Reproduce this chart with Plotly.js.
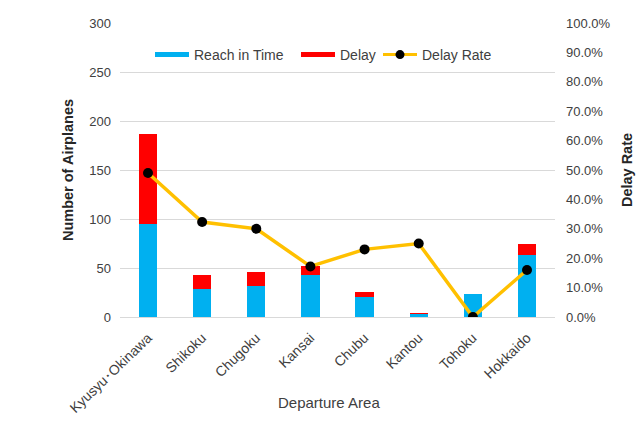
<!DOCTYPE html>
<html>
<head>
<meta charset="utf-8">
<script src="https://cdn.plot.ly/plotly-3.0.1.min.js"></script>
<style>
  html, body { margin: 0; padding: 0; background: #fff; }
  #chart { width: 642px; height: 431px; }
</style>
</head>
<body>
<div id="chart"></div>
<script>
// Departure areas and flight counts
const areas = ['Kyusyu･Okinawa', 'Shikoku', 'Chugoku', 'Kansai', 'Chubu', 'Kantou', 'Tohoku', 'Hokkaido'];
const reachInTime = [95, 29, 32, 43, 20, 3, 23, 63];
const delayed = [92, 14, 14, 9, 6, 1, 0, 12];
const delayRate = [0.49, 0.323, 0.30, 0.172, 0.23, 0.25, 0, 0.16];

const leftTicks = [0, 50, 100, 150, 200, 250, 300];
const rightTicks = [0, 0.1, 0.2, 0.3, 0.4, 0.5, 0.6, 0.7, 0.8, 0.9, 1.0];

const BLUE = '#00B0F0', RED = '#FF0000', GOLD = '#FFC000';
const FAMILY = 'Liberation Sans, Arial, sans-serif';
const tickFont = { family: FAMILY, size: 13, color: '#404040' };
const xTickFont = { family: FAMILY, size: 14, color: '#404040' };
const titleFont = { family: FAMILY, size: 14.5, color: '#262626', weight: 'bold' };
const legendFont = { family: FAMILY, size: 14, color: '#404040' };

const traces = [
  { type: 'bar', x: areas, y: reachInTime, name: 'Reach in Time', marker: { color: BLUE }, showlegend: false },
  { type: 'bar', x: areas, y: delayed, name: 'Delay', marker: { color: RED }, showlegend: false },
  { type: 'scatter', mode: 'lines+markers', x: areas, y: delayRate, yaxis: 'y2', name: 'Delay Rate',
    line: { color: GOLD, width: 3.5 }, marker: { color: '#000', size: 10 }, showlegend: false },
  // legend swatches drawn as thick line segments, one legend per entry
  { type: 'scatter', mode: 'lines', x: [null], y: [null], name: 'Reach in Time', legend: 'legend',
    line: { color: BLUE, width: 5 } },
  { type: 'scatter', mode: 'lines', x: [null], y: [null], name: 'Delay', legend: 'legend2',
    line: { color: RED, width: 5 } },
  { type: 'scatter', mode: 'lines+markers', x: [null], y: [null], name: 'Delay Rate', legend: 'legend3',
    line: { color: GOLD, width: 3 }, marker: { color: '#000', size: 9 } }
];

// plot area spans x 120..555 and y 23..317 in pixels
const px = v => (v - 120) / 435;
const py = v => (317 - v) / 294;
const legendBase = {
  xanchor: 'left', yanchor: 'middle', y: py(55),
  font: legendFont, itemwidth: 34, bgcolor: 'rgba(0,0,0,0)', borderwidth: 0
};

const layout = {
  width: 642, height: 431,
  margin: { l: 120, r: 87, t: 23, b: 114 },
  paper_bgcolor: '#fff', plot_bgcolor: '#fff',
  barmode: 'stack', bargap: 0.66,
  font: tickFont,
  xaxis: {
    type: 'category', tickangle: -44, tickfont: xTickFont, ticklabelstandoff: 9,
    showgrid: false, showline: false, zeroline: false, ticks: ''
  },
  yaxis: {
    range: [0, 300], tickvals: leftTicks, ticktext: leftTicks.map(String),
    showgrid: true, gridcolor: '#d9d9d9', gridwidth: 1, zeroline: true, zerolinecolor: '#d9d9d9',
    showline: false, ticks: '', ticklabelstandoff: 8, tickfont: tickFont,
    title: { text: 'Number of Airplanes', font: titleFont, standoff: 12 }
  },
  yaxis2: {
    overlaying: 'y', side: 'right', range: [0, 1],
    tickvals: rightTicks, ticktext: rightTicks.map(v => (v * 100).toFixed(1) + '%'),
    showgrid: false, zeroline: false, showline: false, ticks: '', ticklabelstandoff: 10, tickfont: tickFont,
    title: { text: 'Delay Rate', font: titleFont, standoff: 12 }
  },
  annotations: [{
    text: 'Departure Area', xref: 'paper', yref: 'paper', x: px(329), y: py(402),
    xanchor: 'center', yanchor: 'middle', showarrow: false,
    font: { family: FAMILY, size: 15, color: '#404040' }
  }],
  legend: { ...legendBase, x: px(150) },
  legend2: { ...legendBase, x: px(296) },
  legend3: { ...legendBase, x: px(378) },
  showlegend: true
};

Plotly.newPlot('chart', traces, layout, { displayModeBar: false, staticPlot: true });
</script>
</body>
</html>
